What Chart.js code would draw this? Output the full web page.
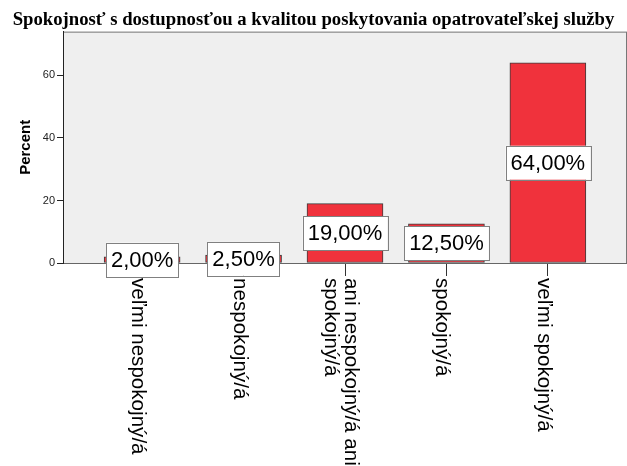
<!DOCTYPE html>
<html>
<head>
<meta charset="utf-8">
<title>Spokojnosť s dostupnosťou a kvalitou poskytovania opatrovateľskej služby</title>
<script src="https://cdn.jsdelivr.net/npm/chart.js@4"></script>
<style>
    html, body { margin: 0; padding: 0; background: #ffffff; }
    .chart-box { width: 627px; height: 466px; }
</style>
</head>
<body>

<div class="chart-box">
    <canvas id="satisfactionChart"></canvas>
</div>

<script>

/* =========================
   DATA
========================= */

const categories = [
    ["veľmi nespokojný/á"],
    ["nespokojný/á"],
    ["ani nespokojný/á ani", "spokojný/á"],
    ["spokojný/á"],
    ["veľmi spokojný/á"]
];

const percents = [2.0, 2.5, 19.0, 12.5, 64.0];

const yTicks = [0, 20, 40, 60];

const chartTitle =
    "Spokojnosť s dostupnosťou a kvalitou poskytovania opatrovateľskej služby";

/* =========================
   PLOT FRAME
========================= */

const framePlugin = {

    id: "frame",

    beforeDraw(chart){

        const { ctx, chartArea: a } = chart;

        ctx.save();
        ctx.fillStyle = "#efefef";
        ctx.fillRect(a.left, a.top, a.right - a.left, a.bottom - a.top);
        ctx.strokeStyle = "#777777";
        ctx.lineWidth = 1;
        ctx.strokeRect(a.left + 0.5, a.top + 0.5, a.right - a.left - 1, a.bottom - a.top);
        ctx.restore();

    }

};

/* =========================
   VALUE BOXES
========================= */

const valueBoxPlugin = {

    id: "valueBoxes",

    afterDatasetsDraw(chart){

        const ctx = chart.ctx;
        const meta = chart.getDatasetMeta(0);

        ctx.save();
        ctx.font = "22px 'Liberation Sans', Arial, sans-serif";
        ctx.textAlign = "center";
        ctx.textBaseline = "middle";

        meta.data.forEach((bar, i) => {

            const text = percents[i].toFixed(2).replace(".", ",") + "%";
            const w = ctx.measureText(text).width + 10;
            const h = 34;
            const cx = bar.x;
            const cy = (bar.y + bar.base) / 2;

            ctx.fillStyle = "#ffffff";
            ctx.fillRect(cx - w / 2, cy - h / 2, w, h);
            ctx.strokeStyle = "#808080";
            ctx.lineWidth = 1;
            ctx.strokeRect(Math.round(cx - w / 2) + 0.5, Math.round(cy - h / 2) + 0.5, Math.round(w), h);

            ctx.fillStyle = "#000000";
            ctx.fillText(text, cx, cy + 1);

        });

        ctx.restore();

    }

};

/* =========================
   ROTATED CATEGORY LABELS
========================= */

const categoryLabelPlugin = {

    id: "categoryLabels",

    afterDraw(chart){

        const ctx = chart.ctx;
        const xScale = chart.scales.x;
        const top = chart.chartArea.bottom + 15;

        ctx.save();
        ctx.font = "20.6px 'Liberation Sans', Arial, sans-serif";
        ctx.fillStyle = "#000000";
        ctx.textAlign = "left";
        ctx.textBaseline = "alphabetic";

        categories.forEach((lines, i) => {

            const x = xScale.getPixelForValue(i);
            const first = (lines.length - 1) * 10 - 10;

            lines.forEach((line, j) => {

                ctx.save();
                ctx.translate(x, top);
                ctx.rotate(Math.PI / 2);
                ctx.fillText(line, 0, -(first - j * 20));
                ctx.restore();

            });

        });

        ctx.restore();

    }

};

/* =========================
   CHART
========================= */

const ctx = document.getElementById("satisfactionChart");

new Chart(ctx, {

    type: "bar",

    data: {

        datasets: [{

            label: "Percent",

            data: percents.map((v, i) => ({ x: i, y: v })),

            backgroundColor: "#f0323c",
            borderColor: "#3c3c3c",
            borderWidth: 1,
            borderSkipped: false,
            barThickness: 76

        }]

    },

    options: {

        responsive: true,
        maintainAspectRatio: false,
        animation: false,

        layout: {
            padding: 0
        },

        plugins: {

            legend: { display: false },
            tooltip: { enabled: false },

            title: {
                display: true,
                text: chartTitle,
                color: "#000000",
                font: {
                    family: "'Liberation Serif', 'Times New Roman', serif",
                    size: 18.7,
                    weight: "bold",
                    lineHeight: 1.2
                },
                padding: { top: 9, bottom: 0.2 }
            }

        },

        scales: {

            x: {
                type: "linear",
                offset: false,
                min: -0.78,
                max: 4.78,
                afterBuildTicks: scale => {
                    scale.ticks = categories.map((c, i) => ({ value: i }));
                },
                afterFit: scale => {
                    scale.height = 203;
                },
                ticks: { display: false },
                grid: {
                    offset: false,
                    drawOnChartArea: false,
                    drawTicks: true,
                    tickLength: 13,
                    color: "#333333"
                },
                border: { color: "#666666" }
            },

            y: {
                min: 0,
                max: 74,
                afterBuildTicks: scale => {
                    scale.ticks = yTicks.map(v => ({ value: v }));
                },
                afterFit: scale => {
                    scale.width = 63;
                },
                ticks: {
                    padding: 2,
                    color: "#222222",
                    font: { family: "'Liberation Sans', Arial, sans-serif", size: 11 }
                },
                grid: {
                    drawOnChartArea: false,
                    tickLength: 6,
                    color: "#222222"
                },
                border: { color: "#222222" },
                title: {
                    display: true,
                    text: "Percent",
                    color: "#000000",
                    padding: { top: 17, bottom: 0 },
                    font: { family: "'Liberation Sans', Arial, sans-serif", size: 15, weight: "bold" }
                }
            }

        }

    },

    plugins: [framePlugin, valueBoxPlugin, categoryLabelPlugin]

});

</script>

</body>
</html>
